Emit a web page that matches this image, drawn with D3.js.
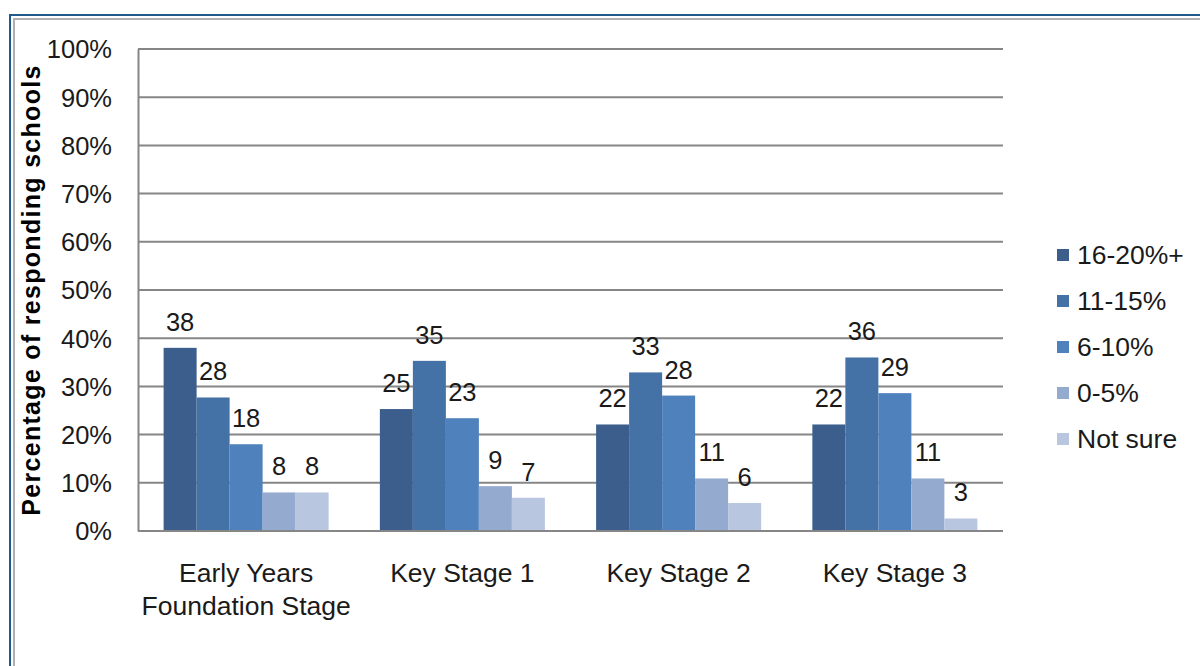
<!DOCTYPE html>
<html>
<head>
<meta charset="utf-8">
<title>Responding schools</title>
<script src="https://d3js.org/d3.v7.min.js"></script>
<style>
	html, body {margin: 0; padding: 0; background: #fff; overflow: hidden}
	text {font-family: "Liberation Sans", Arial, sans-serif; fill: #1a1a1a}
	.tick text {font-size: 25.5px}
	.label {font-size: 25.5px}
	.cat {font-size: 26.5px}
	.legend text {font-size: 26.5px}
	.ytitle {font-size: 25px; font-weight: bold; fill: #000}
</style>
</head>
<body>
<script>
	var categories = [["Early Years", "Foundation Stage"], ["Key Stage 1"], ["Key Stage 2"], ["Key Stage 3"]];
	var seriesNames = ["16-20%+", "11-15%", "6-10%", "0-5%", "Not sure"];
	var colors = ["#3b5e8c", "#4471a6", "#4f81bd", "#94aacf", "#b9c6e0"];
	// bar heights (percent), labels are the rounded numbers
	var eyfs = [38.0, 27.7, 18.0, 8.0, 8.0];
	var ks1 = [25.3, 35.3, 23.4, 9.3, 6.9];
	var ks2 = [22.1, 32.9, 28.1, 10.9, 5.8];
	var ks3 = [22.1, 36.0, 28.6, 10.9, 2.6];
	var yTicks = [0, 10, 20, 30, 40, 50, 60, 70, 80, 90, 100];

	var values = [eyfs, ks1, ks2, ks3];
	var width = 1200, height = 666;
	var margin = {top: 49, right: 197, bottom: 135, left: 138};

	var svg = d3.select("body").append("svg")
		.attr("width", width)
		.attr("height", height);

	// window frame (cropped, only top and left are visible)
	svg.append("path")
		.attr("d", "M10," + height + "V15H" + width)
		.attr("fill", "none")
		.attr("stroke", "#1f5a8a")
		.attr("stroke-width", 2);
	svg.append("path")
		.attr("d", "M14," + height + "V19H" + width)
		.attr("fill", "none")
		.attr("stroke", "#b0b0b0")
		.attr("stroke-width", 2);

	var y = d3.scaleLinear()
		.domain([0, 100])
		.range([height - margin.bottom, margin.top]);

	var x0 = d3.scaleBand()
		.domain(d3.range(categories.length))
		.range([margin.left, width - margin.right]);

	var x1 = d3.scaleBand()
		.domain(seriesNames)
		.range([0, x0.bandwidth()])
		.paddingOuter(0.776);

	// gridlines
	svg.append("g")
		.selectAll("line")
		.data(yTicks.slice(1))
		.enter().append("line")
		.attr("x1", margin.left)
		.attr("x2", width - margin.right)
		.attr("y1", function(d){ return y(d); })
		.attr("y2", function(d){ return y(d); })
		.attr("stroke", "#868686")
		.attr("stroke-width", 2);

	var yAxis = d3.axisLeft(y)
		.tickValues(yTicks)
		.tickSize(0)
		.tickPadding(26)
		.tickFormat(function(d){ return d + "%"; });

	var ya = svg.append("g")
		.attr("transform", "translate(" + margin.left + ",0)")
		.call(yAxis);
	ya.select(".domain").attr("stroke", "#868686").attr("stroke-width", 2);
	ya.selectAll(".tick text").attr("dy", "0.35em");

	svg.append("text")
		.attr("class", "ytitle")
		.attr("transform", "translate(40," + (margin.top + height - margin.bottom) / 2 + ") rotate(-90)")
		.attr("text-anchor", "middle")
		.attr("letter-spacing", 1.3)
		.text("Percentage of responding schools");

	var groups = svg.append("g")
		.selectAll("g")
		.data(values)
		.enter().append("g")
		.attr("transform", function(d, i){ return "translate(" + x0(i) + ",0)"; });

	groups.selectAll("rect")
		.data(function(d){ return d.map(function(v, j){ return {v: v, s: seriesNames[j], c: colors[j]}; }); })
		.enter().append("rect")
		.attr("x", function(d){ return x1(d.s); })
		.attr("y", function(d){ return y(d.v); })
		.attr("width", x1.bandwidth())
		.attr("height", function(d){ return y(0) - y(d.v); })
		.attr("fill", function(d){ return d.c; });

	groups.selectAll(".label")
		.data(function(d){ return d.map(function(v, j){ return {v: v, s: seriesNames[j]}; }); })
		.enter().append("text")
		.attr("class", "label")
		.attr("text-anchor", "middle")
		.attr("x", function(d){ return x1(d.s) + x1.bandwidth() / 2; })
		.attr("y", function(d){ return y(d.v) - 17; })
		.text(function(d){ return Math.round(d.v); });

	// x axis line
	svg.append("line")
		.attr("x1", margin.left)
		.attr("x2", width - margin.right)
		.attr("y1", y(0))
		.attr("y2", y(0))
		.attr("stroke", "#868686")
		.attr("stroke-width", 2);

	svg.append("g")
		.selectAll("text")
		.data(categories)
		.enter().append("text")
		.attr("class", "cat")
		.attr("text-anchor", "middle")
		.attr("x", function(d, i){ return x0(i) + x0.bandwidth() / 2; })
		.attr("y", 582)
		.selectAll("tspan")
		.data(function(d){ return d; })
		.enter().append("tspan")
		.attr("x", function(){ var p = this.parentNode; return p.getAttribute("x"); })
		.attr("dy", function(d, i){ return i ? 33 : 0; })
		.text(function(d){ return d; });

	var legend = svg.append("g")
		.attr("class", "legend")
		.attr("transform", "translate(1057,0)");

	var items = legend.selectAll("g")
		.data(seriesNames)
		.enter().append("g")
		.attr("transform", function(d, i){ return "translate(0," + (255 + i * 46) + ")"; });

	items.append("rect")
		.attr("x", 0)
		.attr("y", -6)
		.attr("width", 12)
		.attr("height", 12)
		.attr("fill", function(d, i){ return colors[i]; });

	items.append("text")
		.attr("x", 20)
		.attr("dy", "0.35em")
		.text(function(d){ return d; });
</script>
</body>
</html>
